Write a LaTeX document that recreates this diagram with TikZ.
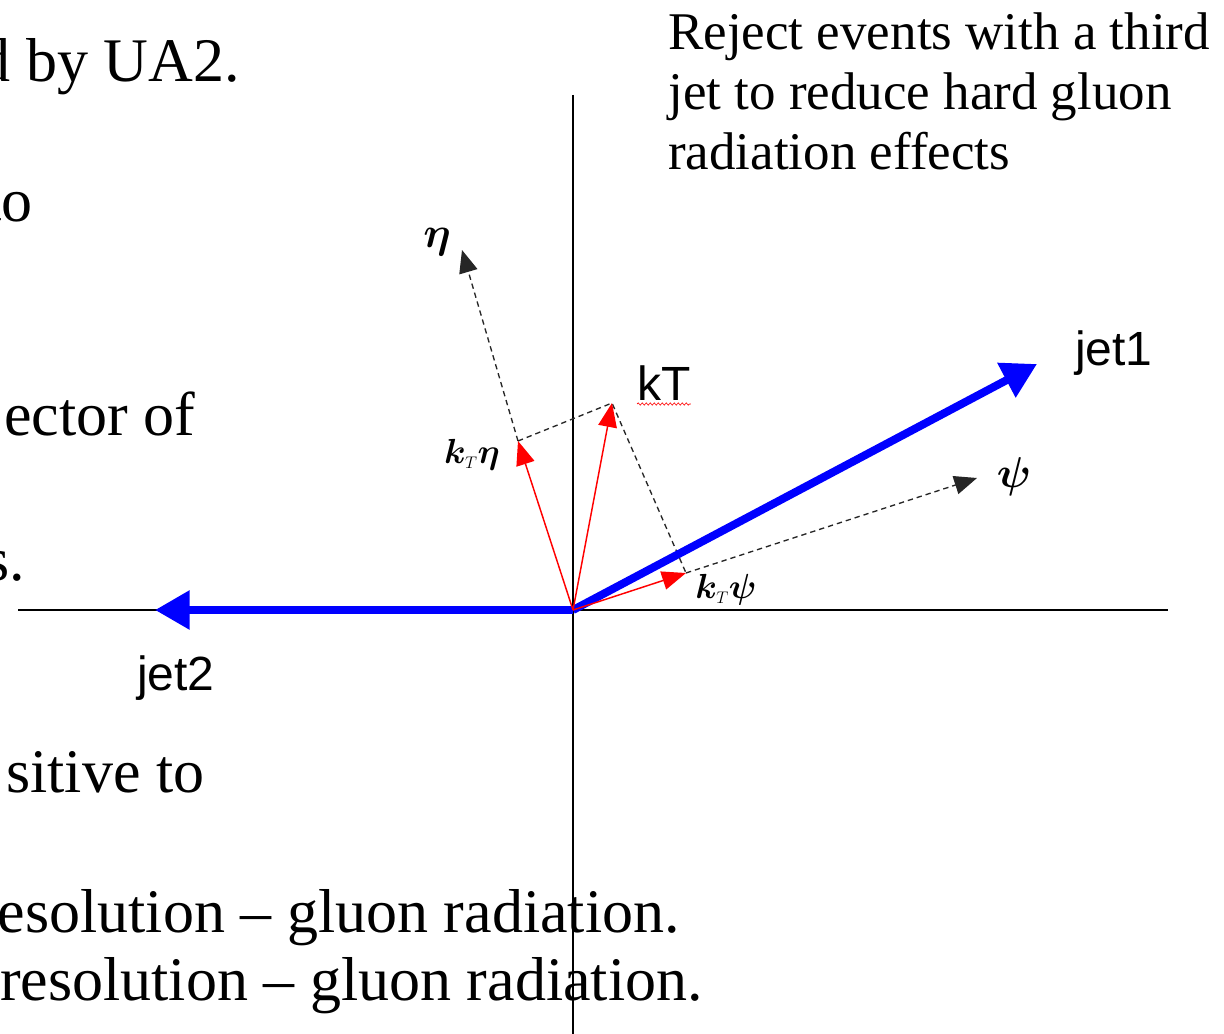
\documentclass[tikz,border=0pt]{standalone}
\usepackage{bm}
\usepackage{graphicx}
\usepackage{fontspec}
\setmainfont{Liberation Serif}
\newfontfamily\labelfont{Liberation Sans}
\usetikzlibrary{arrows.meta,decorations.pathmorphing}
\begin{document}
\begin{tikzpicture}[x=0.75pt,y=-0.75pt,
  axisline/.style={line width=0.9pt,black},
  jetvec/.style={line width=6pt,blue,-{Triangle[length=26pt,width=28pt]}},
  redvec/.style={line width=1.1pt,red,-{Triangle[length=18pt,width=14pt]}},
  dashline/.style={line width=1pt,black!85,dash pattern=on 4pt off 3pt},
  dashvec/.style={dashline,-{Triangle[length=17pt,width=14pt]}},
  bigtext/.style={inner sep=0pt,font=\fontsize{46.5pt}{50pt}\selectfont},
  notetext/.style={inner sep=0pt,align=left,font=\fontsize{39.75pt}{45pt}\selectfont},
  jetlabel/.style={inner sep=0pt,font=\labelfont\fontsize{36pt}{40pt}\selectfont},
  mathlabel/.style={inner sep=0pt,font=\fontsize{24pt}{26pt}\selectfont},
  mathsmall/.style={inner sep=0pt,font=\fontsize{24pt}{26pt}\selectfont}]
\useasboundingbox (0,0) rectangle (1224,1034);
\clip (0,0) rectangle (1224,1034);
\fill[white] (0,0) rectangle (1224,1034);

% background slide text fragments
\node[bigtext,anchor=base east] (t1) at (240,82) {d by UA2.};
\node[bigtext,anchor=base east] (t2) at (33,222) {to};
\node[bigtext,anchor=base west] (t3) at (4,435) {ector of};
\node[bigtext,anchor=base east] (t4) at (25,580) {s.};
\node[bigtext,anchor=base west] (t5) at (6,792) {sitive to};
\node[bigtext,anchor=base east] (t6) at (680,932) {esolution -- gluon radiation.};
\node[bigtext,anchor=base east] (t7) at (703,1000) {resolution -- gluon radiation.};

\node[notetext,anchor=north west] (note) at (668,12) {Reject events with a third\\jet to reduce hard gluon\\radiation effects};

% axes
\coordinate (O) at (573,610);
\coordinate (xl) at (18,610);
\coordinate (xr) at (1168,610);
\coordinate (yt) at (573,95);
\coordinate (yb) at (573,1034);
\draw[axisline] (xl) -- (xr);
\draw[axisline] (yt) -- (yb);

% points
\coordinate (K) at (612,403);
\coordinate (A) at (518,441);
\coordinate (B) at (686,573);
\coordinate (etatip) at (462,250);
\coordinate (psitip) at (977,478);
\coordinate (j1) at (1037,364);
\coordinate (j2) at (155,610);

% dashed construction
\draw[dashline] (A) -- (K) -- (B);
\draw[dashvec] (A) -- (etatip);
\draw[dashvec] (B) -- (psitip);

% jets
\draw[jetvec] (O) -- (j1);
\draw[jetvec] (O) -- (j2);

% red vectors
\draw[redvec] (O) -- (K);
\draw[redvec] (O) -- (A);
\draw[redvec] (O) -- (B);

% labels
\node[jetlabel,anchor=base west] (l1) at (1075,365) {jet1};
\node[jetlabel,anchor=base west] (l2) at (137,690) {jet2};
\node[jetlabel,anchor=base west] (kT) at (637,400) {kT};
\draw[red,line width=0.5pt,decorate,decoration={snake,amplitude=0.8pt,segment length=3pt}]
  ([yshift=-3pt]kT.base west) -- ([yshift=-3pt]kT.base east);
\node[mathlabel] (eta) at (437,242) {\scalebox{1.3}{$\bm{\eta}$}};
\node[mathlabel] (psi) at (1014,477) {\scalebox{1.3}{$\bm{\psi}$}};
\node[mathsmall] (kteta) at (472,455) {\scalebox{1.05}{$\bm{k}_{\scriptscriptstyle T}\bm{\eta}$}};
\node[mathsmall] (ktpsi) at (726,590) {\scalebox{1.05}{$\bm{k}_{\scriptscriptstyle T}\bm{\psi}$}};
\end{tikzpicture}
\end{document}
